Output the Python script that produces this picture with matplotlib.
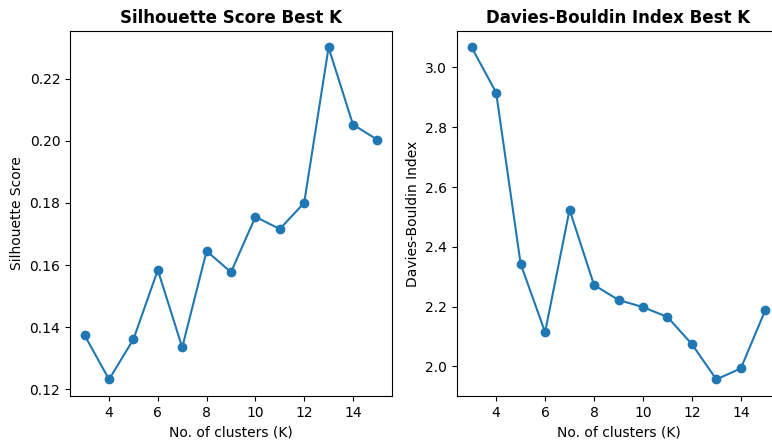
import matplotlib
matplotlib.use('Agg')
from matplotlib import pyplot as plt

k_values = list(range(3, 16))
silhouette_scores = [0.1374, 0.1232, 0.1361, 0.1584, 0.1335, 0.1645, 0.1577,
                     0.1755, 0.1716, 0.1800, 0.2300, 0.2052, 0.2003]
db_scores = [3.067, 2.916, 2.343, 2.114, 2.524, 2.272, 2.222,
             2.198, 2.165, 2.074, 1.956, 1.993, 2.188]


def run_main():
    fig = plt.figure(figsize=(7.72, 4.41), dpi=100)
    ax_1 = fig.add_axes([70 / 772, 0.102, 322 / 772, 0.828])
    ax_2 = fig.add_axes([457 / 772, 0.102, 323 / 772, 0.828])

    ax_1.plot(k_values, silhouette_scores, marker='o')
    ax_1.set_title('Silhouette Score Best K', fontweight='bold')
    ax_1.set_xlabel('No. of clusters (K)')
    ax_1.set_ylabel('Silhouette Score')

    ax_2.plot(k_values, db_scores, marker='o')
    ax_2.set_title('Davies-Bouldin Index Best K', fontweight='bold')
    ax_2.set_xlabel('No. of clusters (K)')
    ax_2.set_ylabel('Davies-Bouldin Index')

    fig.savefig('out.png', dpi=100)


if __name__ == '__main__':
    run_main()
